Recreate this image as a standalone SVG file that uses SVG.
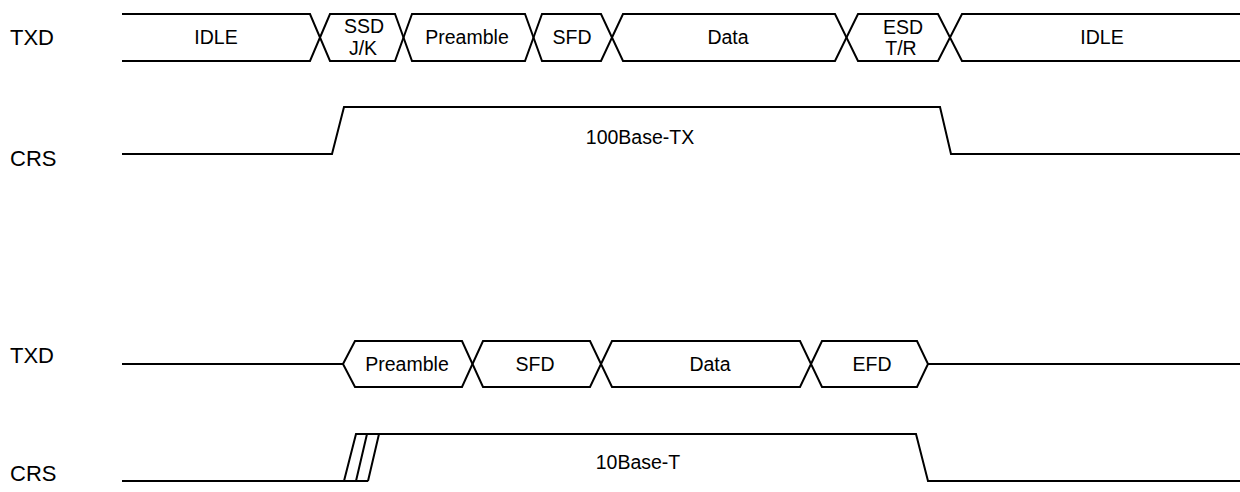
<svg xmlns="http://www.w3.org/2000/svg" width="1240" height="492" viewBox="0 0 1240 492">
<style>
.w{fill:none;stroke:#000;stroke-width:2;stroke-linejoin:miter}
.t{font-family:"Liberation Sans",Arial,sans-serif;font-size:19.5px;fill:#000;text-anchor:middle}
.lbl{font-family:"Liberation Sans",Arial,sans-serif;font-size:22px;fill:#000}
</style>
<rect width="1240" height="492" fill="#fff"/>
<g id="labels">
<text class="lbl" x="10" y="45">TXD</text>
<text class="lbl" x="10" y="166">CRS</text>
<text class="lbl" x="10" y="363">TXD</text>
<text class="lbl" x="10" y="481">CRS</text>
</g>
<g id="txd100">
<g id="idle1"><path class="w" d="M122,14 H310 L320,37.5 L310,61 H122"/><text class="t" x="216" y="44">IDLE</text></g>
<g id="ssd"><path class="w" d="M320,37.5 L330,14 H395 L403.5,37.5 L395,61 H330 Z"/><text class="t" x="364" y="33">SSD</text><text class="t" x="363" y="55">J/K</text></g>
<g id="pre1"><path class="w" d="M403.5,37.5 L412,14 H525 L533.5,37.5 L525,61 H412 Z"/><text class="t" x="467" y="44">Preamble</text></g>
<g id="sfd1"><path class="w" d="M533.5,37.5 L542,14 H601 L612,37.5 L601,61 H542 Z"/><text class="t" x="572" y="44">SFD</text></g>
<g id="data1"><path class="w" d="M612,37.5 L623,14 H835 L846.5,37.5 L835,61 H623 Z"/><text class="t" x="728" y="44">Data</text></g>
<g id="esd"><path class="w" d="M846.5,37.5 L858,14 H938 L950,37.5 L938,61 H858 Z"/><text class="t" x="903" y="34">ESD</text><text class="t" x="901" y="55">T/R</text></g>
<g id="idle2"><path class="w" d="M1240,14 H962 L950,37.5 L962,61 H1240"/><text class="t" x="1102" y="44">IDLE</text></g>
</g>
<g id="txd10">
<path class="w" d="M122,364 H343"/>
<path class="w" d="M928,364 H1240"/>
<g id="pre2"><path class="w" d="M343,364 L355,341 H462 L472.5,364 L462,387 H355 Z"/><text class="t" x="407" y="371">Preamble</text></g>
<g id="sfd2"><path class="w" d="M472.5,364 L483,341 H590 L601,364 L590,387 H483 Z"/><text class="t" x="535" y="371">SFD</text></g>
<g id="data2"><path class="w" d="M601,364 L612,341 H800 L811,364 L800,387 H612 Z"/><text class="t" x="710" y="371">Data</text></g>
<g id="efd"><path class="w" d="M811,364 L822,341 H917 L928,364 L917,387 H822 Z"/><text class="t" x="872" y="371">EFD</text></g>
</g>
<g id="connectors">
<path class="w" d="M122,154 H332 L344,107 H940 L951,154 H1240"/>
<path class="w" d="M122,481 H368 M344,481 L356,434 H916 L928,481 H1240 M356,481 L367,434 M368,481 L379,434"/>
</g>
<g id="crs-labels">
<text class="t" x="640" y="144">100Base-TX</text>
<text class="t" x="638" y="469">10Base-T</text>
</g>
</svg>
